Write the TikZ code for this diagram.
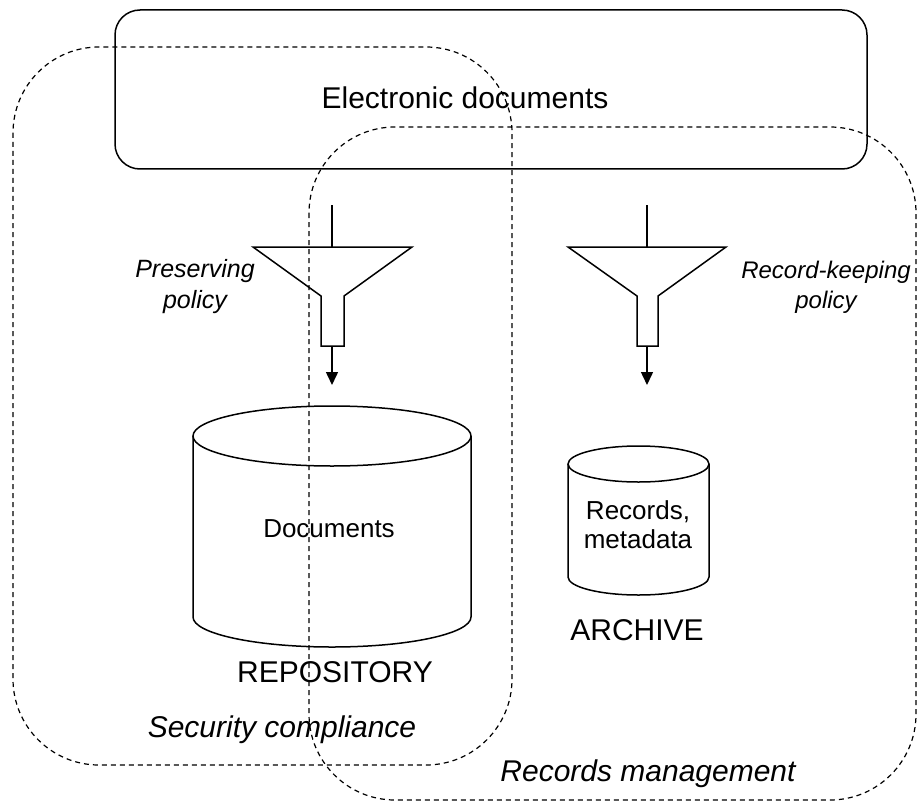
\documentclass[tikz,border=0pt]{standalone}
\usepackage{fontspec}
\setmainfont{Liberation Sans}
\usetikzlibrary{arrows.meta}

\begin{document}
\begin{tikzpicture}[x=.5pt,y=-.5pt,
  region/.style={dash pattern=on 2.5pt off 2pt,line width=.6pt,rounded corners=43pt},
  solid line/.style={line width=.75pt},
  flow/.style={line width=.75pt,-{Triangle[length=6.5pt,width=6pt]}},
  big/.style={font=\fontsize{15}{18}\selectfont},
  small/.style={font=\fontsize{13}{14.5}\selectfont,align=center},
  policy/.style={font=\itshape\fontsize{12.5}{15.5}\selectfont,align=center}]
\path[use as bounding box] (0,0) rectangle (919,802);

% the two policy regions
\draw[region] (13,47) rectangle (512,765);
\draw[region] (309,127) rectangle (916,800);
\node[big,font=\itshape\fontsize{15}{18}\selectfont,anchor=base] (secu) at (282,737) {Security compliance};
\node[big,font=\itshape\fontsize{15}{18}\selectfont,anchor=base] (recm) at (648,781) {Records management};

% source of documents
\draw[solid line,rounded corners=12.5pt] (115,10) rectangle (867,169);
\node[big] (edocs) at (465,98) {Electronic documents};

% preserving filter
\coordinate (pin) at (332,205);
\coordinate (pmouth) at (332,247);
\coordinate (pout) at (332,346);
\coordinate (pdrop) at (332,385);
\draw[solid line] (pin) -- (pmouth);
\draw[solid line] (253,247) -- (412,247) -- (344,296) -- (344,346) -- (321,346) -- (321,296) -- cycle;
\draw[flow] (pout) -- (pdrop);
\node[policy] (ppol) at (195,287) {Preserving\\policy};

% record-keeping filter
\coordinate (rin) at (647,205);
\coordinate (rmouth) at (647,247);
\coordinate (rout) at (647,346);
\coordinate (rdrop) at (647,385);
\draw[solid line] (rin) -- (rmouth);
\draw[solid line] (568,247) -- (726,247) -- (658,296) -- (658,346) -- (637,346) -- (637,296) -- cycle;
\draw[flow] (rout) -- (rdrop);
\node[policy,font=\itshape\fontsize{12}{15}\selectfont] (rpol) at (826,287) {Record-keeping\\policy};

% repository store
\draw[solid line] (193,436) -- (193,617) arc[start angle=180,end angle=0,x radius=139,y radius=30] -- (471,436);
\draw[solid line] (332,436) ellipse[x radius=139,y radius=30];
\node[small] (docs) at (329,529) {Documents};
\node[big,anchor=base] (repo) at (335,682) {REPOSITORY};

% archive store
\draw[solid line] (568,464) -- (568,577) arc[start angle=180,end angle=0,x radius=70.5,y radius=18] -- (709,464);
\draw[solid line] (638.5,464) ellipse[x radius=70.5,y radius=18];
\node[small] (recs) at (638,525) {Records,\\metadata};
\node[big,anchor=base] (arch) at (637,640) {ARCHIVE};
\end{tikzpicture}
\end{document}
